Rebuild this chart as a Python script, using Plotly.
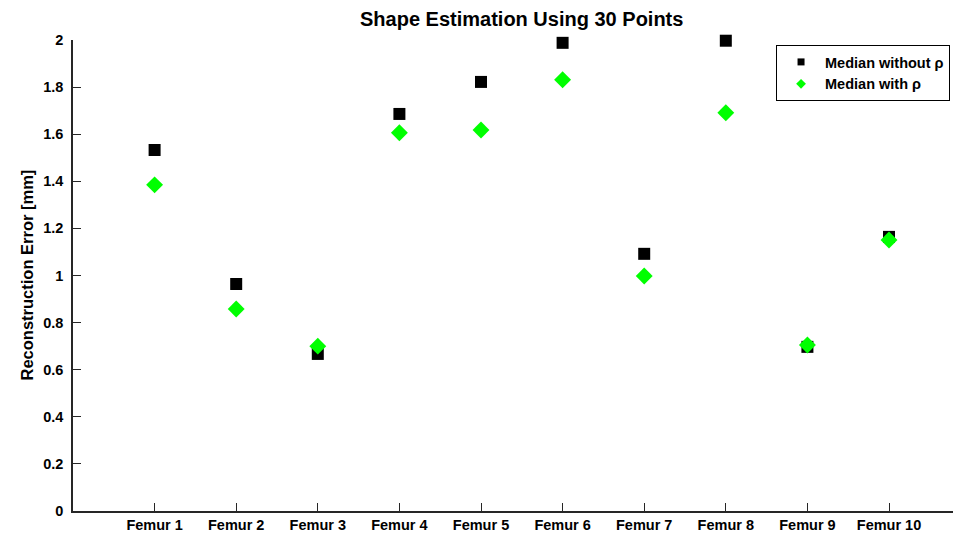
import plotly.graph_objects as go

categories = ["Femur 1", "Femur 2", "Femur 3", "Femur 4", "Femur 5",
              "Femur 6", "Femur 7", "Femur 8", "Femur 9", "Femur 10"]
median_without = [1.533, 0.964, 0.667, 1.686, 1.822, 1.988, 1.092, 1.997, 0.697, 1.164]
median_with = [1.385, 0.858, 0.700, 1.606, 1.618, 1.831, 0.998, 1.691, 0.705, 1.151]
y_ticks = [0, 0.2, 0.4, 0.6, 0.8, 1, 1.2, 1.4, 1.6, 1.8, 2]
series_names = ["Median without ρ", "Median with ρ"]

positions = list(range(1, len(categories) + 1))
FONT = "Liberation Sans, Arial, Helvetica, sans-serif"
BLACK = "black"
GREEN = "#00ff00"

fig = go.Figure()
fig.add_trace(go.Scatter(
    x=positions, y=median_without, mode="markers", name=series_names[0],
    showlegend=False, legendgroup="a", cliponaxis=False,
    marker=dict(symbol="square", size=12, color=BLACK, line=dict(width=0)),
))
fig.add_trace(go.Scatter(
    x=positions, y=median_with, mode="markers", name=series_names[1],
    showlegend=False, legendgroup="b", cliponaxis=False,
    marker=dict(symbol="diamond", size=13, color=GREEN, line=dict(width=0)),
))
# legend entries (smaller legend symbols, as in the reference)
fig.add_trace(go.Scatter(
    x=[None], y=[None], mode="markers", name=series_names[0], legendgroup="a",
    marker=dict(symbol="square", size=7, color=BLACK, line=dict(width=0)),
))
fig.add_trace(go.Scatter(
    x=[None], y=[None], mode="markers", name=series_names[1], legendgroup="b",
    marker=dict(symbol="diamond", size=7.5, color=GREEN, line=dict(width=0)),
))

# page has an 8px body margin: figure placed at (8, 8)
fig.update_layout(
    width=953, height=525,
    margin=dict(l=65, r=1, t=32, b=22, autoexpand=False),
    paper_bgcolor="white", plot_bgcolor="white",
    font=dict(family=FONT, size=14.5, color="black", weight="bold"),
    showlegend=True,
    legend=dict(x=0.7926, y=0.9894, xanchor="left", yanchor="top",
                bordercolor="black", borderwidth=1, bgcolor="white",
                font=dict(family=FONT, size=14.5, color="black", weight="bold"),
                itemwidth=38, tracegroupgap=0),
    xaxis=dict(range=[0, 10.87], tickmode="array", tickvals=positions, ticktext=categories,
               ticks="inside", ticklen=8, tickwidth=1, tickcolor="#262626",
               showline=True, linecolor="#262626", linewidth=1.5,
               showgrid=False, zeroline=False, fixedrange=True, automargin=False,
               tickfont=dict(family=FONT, size=14.5, color="black", weight="bold")),
    yaxis=dict(range=[0, 2], tickmode="array", tickvals=y_ticks,
               ticktext=[("%g" % v) for v in y_ticks],
               ticks="inside", ticklen=8, tickwidth=1, tickcolor="#262626",
               showline=True, linecolor="#262626", linewidth=1.5,
               showgrid=False, zeroline=False, fixedrange=True, automargin=False,
               ticklabelstandoff=5,
               tickfont=dict(family=FONT, size=14.5, color="black", weight="bold")),
)
fig.add_annotation(x=5.5, y=1, xref="x", yref="paper", yanchor="middle", yshift=21,
                   text="Shape Estimation Using 30 Points", showarrow=False,
                   font=dict(family=FONT, size=20, color="black", weight="bold"))
fig.add_annotation(x=0, y=0.5, xref="paper", yref="paper", xanchor="center", yanchor="middle",
                   xshift=-47, textangle=-90,
                   text="Reconstruction Error [mm]", showarrow=False,
                   font=dict(family=FONT, size=16.5, color="black", weight="bold"))

fig.write_html("out.html")
